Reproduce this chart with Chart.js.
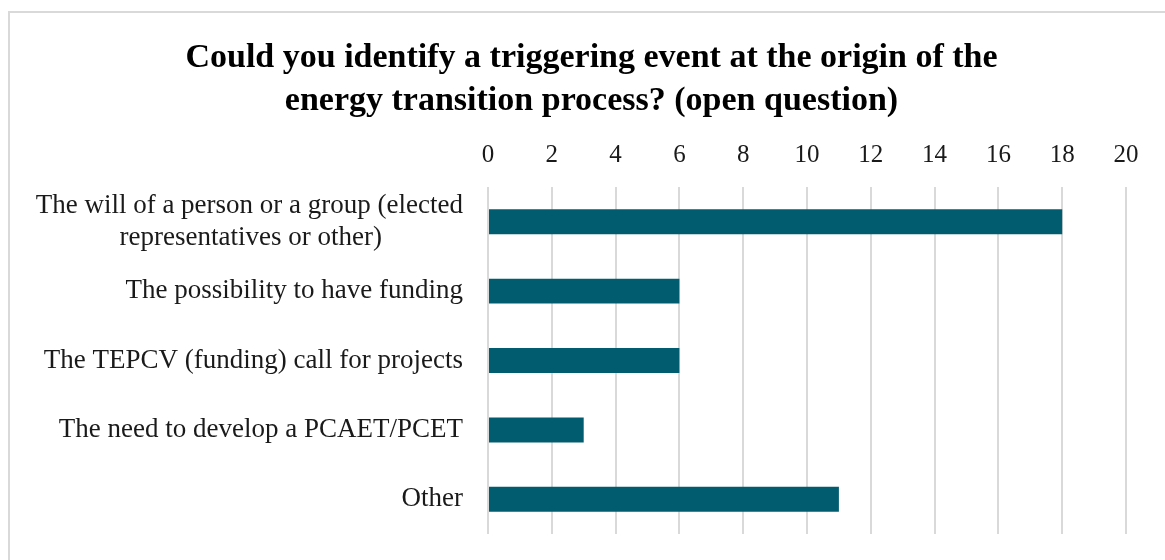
<!DOCTYPE html>
<html>
<head>
<meta charset="utf-8">
<style>
  html, body { margin: 0; padding: 0; background: #ffffff; }
  #wrap { position: relative; width: 1165px; height: 560px; }
</style>
<script src="https://cdn.jsdelivr.net/npm/chart.js@4/dist/chart.umd.min.js"></script>
</head>
<body>
<div id="wrap"><canvas id="chart" width="1165" height="560"></canvas></div>
<script>
// Survey answers: triggering event at the origin of the energy transition process
const categories = [
  ["The will of a person or a group (elected", "representatives or other)"],
  "The possibility to have funding",
  "The TEPCV (funding) call for projects",
  "The need to develop a PCAET/PCET",
  "Other"
];
const responses = [18, 6, 6, 3, 11];
const axisMin = 0;
const axisMax = 20;
const axisStep = 2;
const titleLines = [
  "Could you identify a triggering event at the origin of the",
  "energy transition process? (open question)"
];

const serif = "'Liberation Serif', 'DejaVu Serif', serif";
const labelFontSize = 27;

// Thin frame along the top and left edges of the figure
const framePlugin = {
  id: 'frame',
  beforeDraw(chart) {
    const ctx = chart.ctx;
    ctx.save();
    ctx.strokeStyle = '#d9d9d9';
    ctx.lineWidth = 2;
    ctx.beginPath();
    ctx.moveTo(9, chart.height);
    ctx.lineTo(9, 12);
    ctx.lineTo(chart.width, 12);
    ctx.stroke();
    ctx.restore();
  }
};

// Centre the lines of a wrapped category label on each other while the
// block as a whole stays right-aligned against the axis.
function centreWrappedLabels(scale) {
  const ctx = scale.ctx;
  ctx.save();
  ctx.font = labelFontSize + 'px ' + serif;
  const space = ctx.measureText(' ').width;
  scale.ticks.forEach(t => {
    if (!Array.isArray(t.label)) return;
    const widths = t.label.map(s => ctx.measureText(s).width);
    const widest = Math.max(...widths);
    t.label = t.label.map((s, i) => s + ' '.repeat(Math.round((widest - widths[i]) / 2 / space)));
  });
  ctx.restore();
}

new Chart(document.getElementById('chart'), {
  type: 'bar',
  data: {
    labels: categories,
    datasets: [{
      data: responses,
      backgroundColor: '#025c6f',
      borderWidth: 0,
      categoryPercentage: 1,
      barPercentage: 0.36
    }]
  },
  plugins: [framePlugin],
  options: {
    indexAxis: 'y',
    responsive: false,
    animation: false,
    devicePixelRatio: 1,
    layout: { padding: { left: 18, right: 0, top: 12, bottom: 26 } },
    plugins: {
      legend: { display: false },
      tooltip: { enabled: false },
      title: {
        display: true,
        text: titleLines,
        color: '#000000',
        font: { family: serif, size: 34, weight: 'bold', lineHeight: 1.28 },
        padding: { top: 24, bottom: 1 }
      }
    },
    scales: {
      x: {
        position: 'top',
        min: axisMin,
        max: axisMax,
        ticks: {
          stepSize: axisStep,
          color: '#1a1a1a',
          font: { family: serif, size: 25 },
          padding: 16.5
        },
        grid: { color: '#d9d9d9', lineWidth: 2, drawTicks: false },
        border: { display: false },
        afterFit(scale) { scale.paddingRight = 39; }
      },
      y: {
        ticks: {
          autoSkip: false,
          color: '#1a1a1a',
          font: { family: serif, size: labelFontSize, lineHeight: 1.2 },
          padding: 25
        },
        grid: { display: false, drawTicks: false },
        border: { display: false },
        afterTickToLabelConversion: centreWrappedLabels,
        afterFit(scale) {
          scale.width = 470;
          scale.paddingTop = 0;
          scale.paddingBottom = 0;
        }
      }
    }
  }
});
</script>
</body>
</html>
